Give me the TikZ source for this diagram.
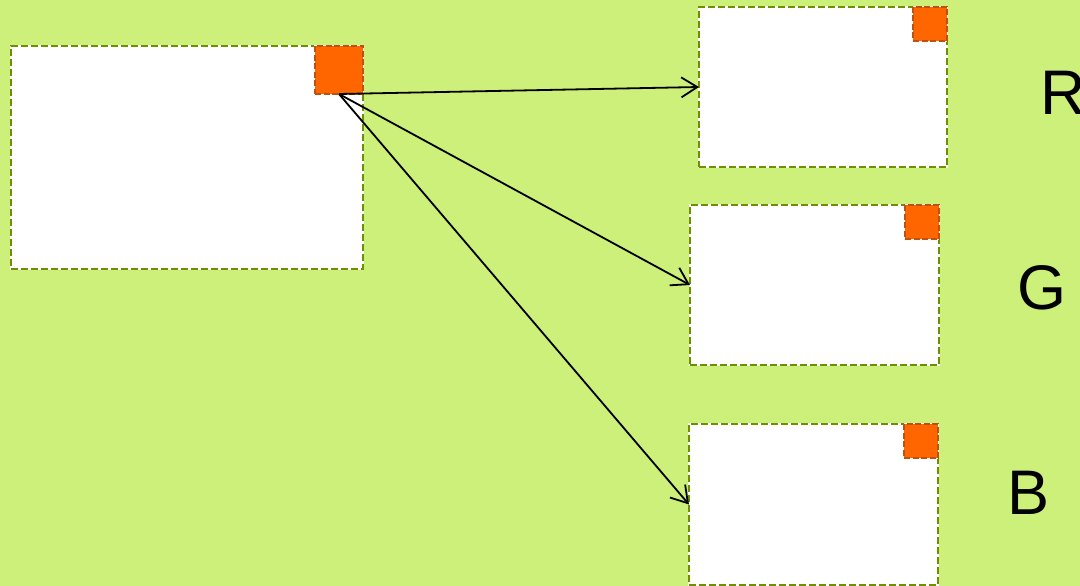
\documentclass[tikz,border=0pt]{standalone}
\usepackage{fontspec}
\setmainfont{Liberation Sans}
\usetikzlibrary{arrows.meta}

\definecolor{bgGreen}{HTML}{CCF07A}
\definecolor{edgeOlive}{HTML}{6E9000}
\definecolor{chanOrange}{HTML}{FF6600}
\definecolor{chanEdge}{HTML}{C05010}

\tikzset{
  imgbox/.style={draw=edgeOlive, dashed, dash pattern=on 7pt off 3pt, line width=2.6pt,
    fill=white, preaction={draw=white, line width=2.6pt, solid},
    minimum width=#1, inner sep=0pt, outer sep=0pt},
  pixbox/.style={draw=chanEdge, dashed, dash pattern=on 6pt off 2.5pt, line width=2.4pt,
    fill=chanOrange, preaction={draw=white, line width=2.4pt, solid},
    minimum width=#1, minimum height=#1, inner sep=0pt, outer sep=0pt, anchor=north east},
  chanlabel/.style={font=\fontsize{63}{70}\selectfont, inner sep=0pt},
  splitarrow/.style={-{Straight Barb[length=16pt,width=20pt]}, line width=1.8pt}
}

\begin{document}
\begin{tikzpicture}[x=1pt, y=-1pt]

  %% ════ 背景 ════
  \fill[bgGreen] (0,0) rectangle (1080,586);

  %% ════ 源图 + 三个通道 ════
  \node[imgbox=352pt, minimum height=223pt] (src) at (187.0,157.5) {};
  \node[pixbox=48pt] (srcpix) at (src.north east) {};

  \node[imgbox=248pt, minimum height=160pt] (red) at (823.0,87.0) {};
  \node[pixbox=34pt] (redpix) at (red.north east) {};

  \node[imgbox=249pt, minimum height=160pt] (green) at (814.5,285.0) {};
  \node[pixbox=34pt] (greenpix) at (green.north east) {};

  \node[imgbox=249pt, minimum height=161pt] (blue) at (813.5,504.5) {};
  \node[pixbox=34pt] (bluepix) at (blue.north east) {};

  %% ════ 箭头 ════
  \draw[splitarrow] (srcpix.south) -- (red.west);
  \draw[splitarrow] (srcpix.south) -- (green.west);
  \draw[splitarrow] (srcpix.south) -- (blue.west);

  %% ════ 标签（R 在右边缘被截，与原图一致）════
  \node[chanlabel] (rlab) at (1063.0,93.0) {R};
  \node[chanlabel] (glab) at (1042.0,288.0) {G};
  \node[chanlabel] (blab) at (1029.0,493.0) {B};

  % 钉死画布
  \pgfresetboundingbox
  \path[use as bounding box] (0,0) rectangle (1080,586);
\end{tikzpicture}
\end{document}
